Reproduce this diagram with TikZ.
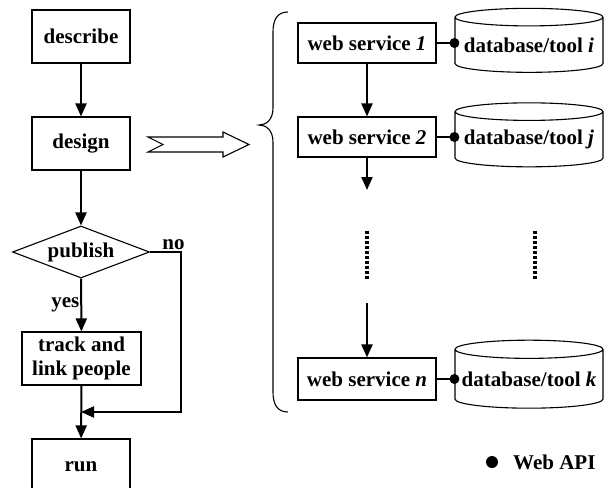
\documentclass[tikz,border=0pt]{standalone}
\usepackage{fontspec}
\setmainfont{Liberation Serif}
\usetikzlibrary{arrows.meta,shapes.geometric,positioning,calc}

\tikzset{
  lbl/.style={font=\fontsize{21}{24}\selectfont\bfseries},
  box/.style={lbl, draw, line width=1.1pt, minimum width=98pt, minimum height=53pt,
    inner sep=0pt, align=center},
  decision/.style={lbl, draw, diamond, aspect=2.63, line width=1.1pt, minimum width=137pt,
    minimum height=52pt, inner sep=0pt},
  svc/.style={lbl, draw, line width=1.1pt, minimum width=138pt, minimum height=40pt,
    inner sep=0pt},
  store/.style={lbl, draw, cylinder, shape border rotate=90, aspect=0.135,
    line width=1.1pt, minimum width=148pt, minimum height=64pt, inner sep=0pt},
  flow/.style={line width=2pt, -{Triangle[length=13pt,width=11pt]}},
  api/.style={line width=1.6pt},
  apidot/.style={circle, fill, inner sep=0pt, minimum size=10pt},
  vdots/.style={line width=3.2pt, dash pattern=on 2.8pt off 2.2pt}
}

\begin{document}
\begin{tikzpicture}[x=1pt,y=-1pt]
\useasboundingbox (0,0) rectangle (606,488);
% left flow
\node[box] (describe) at (81,36.5) {describe};
\node[box] (design) at (81,143.5) {design};
\node[decision] (publish) at (81,252) {publish};
\node[box, minimum width=119pt] (track) at (81.5,358.5) {track and\\link people};
\node[box, minimum height=56pt] (run) at (81,467) {run};
\coordinate (merge) at (81,412);

\draw[flow] (describe) -- (design);
\draw[flow] (design) -- (publish);
\draw[flow] (publish) -- node[lbl, anchor=east, inner sep=1pt] {yes} (track);
\draw[flow] (publish.east) -- node[lbl, above, xshift=8pt, inner sep=1pt] {no} ++(31,0) |- (merge);
\draw[flow] (track) -- (run);

% hollow arrow
\draw[line width=1.1pt, line join=miter] (148,137) -- (223,137) -- (223,132) -- (249,144.5)
  -- (223,157) -- (223,152) -- (148,152) -- (163,144.5) -- cycle;

% brace
\draw[line width=1.1pt] (288,12) .. controls (277,12) and (273,20) .. (273,32) -- (273,108)
  .. controls (273,120) and (266,125) .. (259,125)
  .. controls (266,125) and (273,130) .. (273,142) -- (273,392)
  .. controls (273,404) and (277,412) .. (288,412);

% web services
\node[svc] (ws1) at (367,43) {web service \textit{1}};
\node[svc] (ws2) at (367,137) {web service \textit{2}};
\node[svc, minimum height=42pt] (wsn) at (367,379) {web service \textit{n}};
\node[store] (db1) at (529,45) {database/tool \textit{i}};
\node[store] (db2) at (529,139.5) {database/tool \textit{j}};
\node[store, minimum height=68pt] (dbn) at (529,379) {database/tool \textit{k}};

\draw[api] (ws1.east) -- (ws1.east -| db1.west) node[apidot] (api1) {};
\draw[api] (ws2.east) -- (ws2.east -| db2.west) node[apidot] (api2) {};
\draw[api] (wsn.east) -- (wsn.east -| dbn.west) node[apidot] (apin) {};

\draw[flow] (ws1) -- (ws2);
\draw[flow] (ws2) -- ++(0,53) coordinate (gapa);
\coordinate (gapb) at (367,303);
\draw[flow] (gapb) -- (wsn);
\draw[vdots] (367,231) -- (367,279);
\draw[vdots] (535,231) -- (535,279);

% key
\node[apidot, minimum size=12pt] (key) at (492,462) {};
\node[lbl, anchor=west, inner sep=0pt] (keytext) at (513,462) {Web API};
\end{tikzpicture}
\end{document}
